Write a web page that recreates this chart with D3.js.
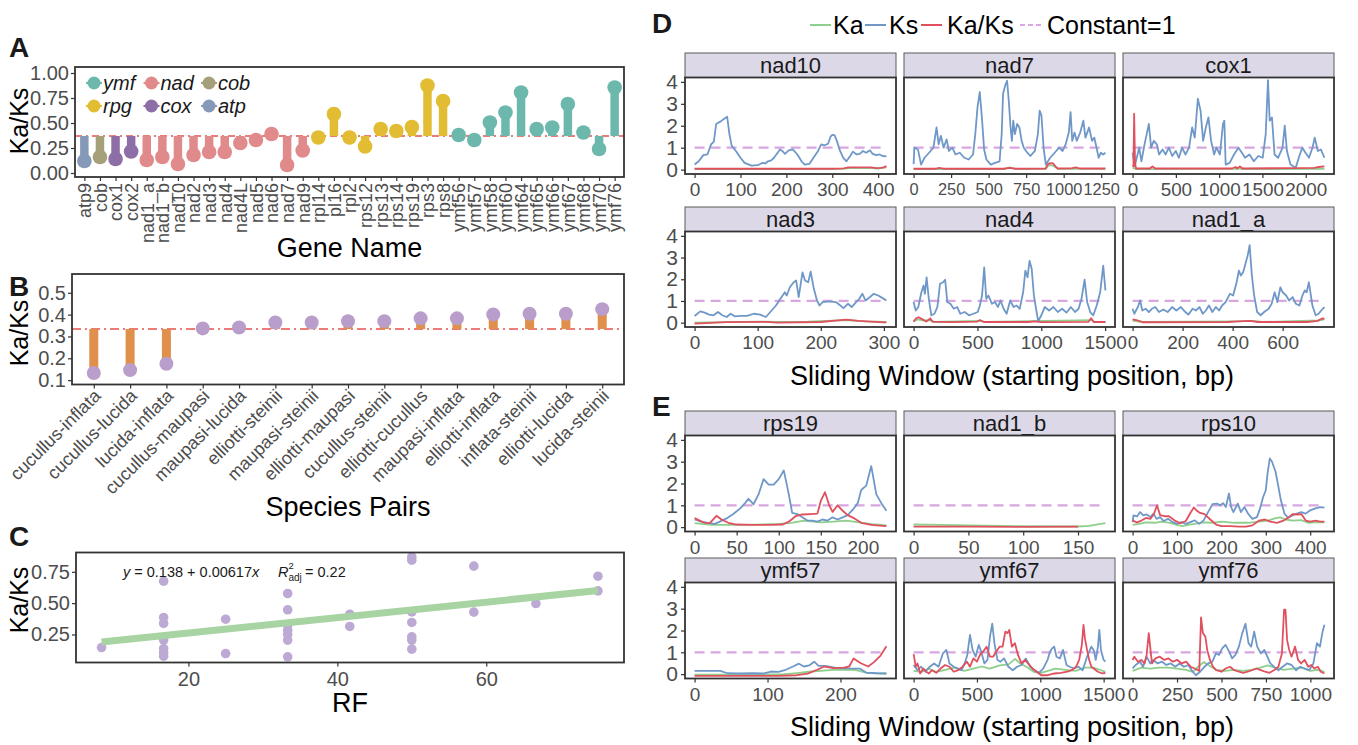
<!DOCTYPE html>
<html><head><meta charset="utf-8">
<script src="https://cdn.jsdelivr.net/npm/d3@7"></script>
<style>body{margin:0;background:#fff}</style>
</head><body><script>
// ---------------- DATA ----------------
// Panel A
const genes = ['atp9','cob','cox1','cox2','nad1_a','nad1_b','nad10','nad2','nad3','nad4','nad4L','nad5','nad6','nad7','nad9','rpl14','pl16','rpl2','rps12','rps13','rps14','rps19','rps3','rps8','ymf56','ymf57','ymf58','ymf60','ymf64','ymf65','ymf66','ymf67','ymf68','ymf70','ymf76'];
const geneGroup = ['atp','cob','cox','cox','nad','nad','nad','nad','nad','nad','nad','nad','nad','nad','nad','rpg','rpg','rpg','rpg','rpg','rpg','rpg','rpg','rpg','ymf','ymf','ymf','ymf','ymf','ymf','ymf','ymf','ymf','ymf','ymf'];
const geneKaKs = [0.12,0.16,0.14,0.215,0.13,0.16,0.09,0.18,0.21,0.21,0.30,0.33,0.39,0.08,0.225,0.355,0.59,0.355,0.265,0.44,0.42,0.46,0.875,0.72,0.38,0.33,0.505,0.605,0.805,0.44,0.455,0.69,0.405,0.24,0.855];
const groupOrder = ['ymf','nad','cob','rpg','cox','atp'];
const refA = 0.37;
const ticksA = [0,0.25,0.5,0.75,1];

// Panel B
const pairs = ['cucullus-inflata','cucullus-lucida','lucida-inflata','cucullus-maupasi','maupasi-lucida','elliotti-steinii','maupasi-steinii','elliotti-maupasi','cucullus-steinii','elliotti-cucullus','maupasi-inflata','elliotti-inflata','inflata-steinii','elliotti-lucida','lucida-steinii'];
const pairKaKs = [0.133,0.146,0.175,0.337,0.341,0.364,0.364,0.370,0.370,0.383,0.383,0.401,0.404,0.404,0.425];
const refB = 0.334;
const ticksB = [0.1,0.2,0.3,0.4,0.5];

// Panel C
const rfX = [8.33,16.67,16.67,16.67,16.67,16.67,16.67,16.67,25,25,33.33,33.33,33.33,33.33,33.33,33.33,33.33,41.67,41.67,50,50,50,50,50,50,50,58.33,58.33,66.67,75,75];
const rfY = [0.146,0.675,0.386,0.338,0.205,0.138,0.106,0.077,0.372,0.098,0.577,0.447,0.324,0.284,0.25,0.205,0.072,0.412,0.314,0.869,0.843,0.43,0.346,0.231,0.205,0.133,0.795,0.428,0.497,0.715,0.598];
const fitIntercept = 0.138, fitSlope = 0.00617, fitR2adj = 0.22;
const ticksCx = [20,40,60], ticksCy = [0.25,0.5,0.75];

// Panels D/E : sliding windows [position, value]
const nad10_Ks = [[0,0.23],[9,0.38],[19,0.66],[28,0.69],[36,1.15],[42,1.28],[47,2.08],[57,2.2],[66,2.34],[71,2.41],[76,1.6],[81,1.08],[90,0.85],[100,0.54],[109,0.31],[124,0.18],[138,0.2],[148,0.31],[154,0.28],[160,0.38],[167,0.42],[173,0.54],[181,0.77],[186,0.92],[191,0.85],[197,0.72],[205,0.88],[214,0.92],[224,0.69],[233,0.38],[240,0.23],[250,0.26],[259,0.54],[269,0.85],[276,1.15],[283,1.11],[291,1.18],[296,1.49],[300,1.58],[305,1.57],[310,1.31],[317,0.85],[324,0.54],[331,0.38],[339,0.62],[345,0.82],[353,0.69],[360,0.72],[367,0.85],[374,0.77],[382,0.88],[388,0.72],[396,0.66],[403,0.69],[410,0.62],[418,0.6]];
const nad10_Ka = [[0,0.02],[100,0.02],[200,0.02],[320,0.03],[340,0.07],[380,0.08],[400,0.05],[418,0.1]];
const nad10_KaKs = [[0,0.04],[100,0.04],[200,0.04],[300,0.04],[325,0.06],[335,0.1],[360,0.1],[385,0.1],[395,0.07],[405,0.08],[412,0.1],[418,0.16]];

const nad7_Ks = [[0,0.25],[5,1.0],[29,0.92],[50,0.23],[73,0.54],[103,0.77],[132,1.0],[153,1.92],[167,1.15],[182,1.54],[200,1.0],[220,1.38],[235,0.85],[258,1.0],[279,0.69],[308,0.77],[338,0.54],[367,0.46],[396,0.69],[411,1.62],[426,2.85],[441,3.54],[455,2.38],[470,0.92],[485,0.46],[514,0.23],[543,0.31],[573,0.38],[587,1.62],[596,3.46],[611,3.85],[623,4.05],[634,3.15],[646,1.92],[655,1.31],[664,2.23],[675,1.62],[690,2.08],[705,1.92],[720,1.31],[734,1.0],[758,0.77],[778,0.62],[808,0.85],[828,1.62],[840,2.69],[852,2.46],[866,1.0],[881,0.23],[910,0.54],[940,0.77],[969,1.0],[993,0.85],[1013,1.15],[1034,1.69],[1046,2.62],[1057,1.31],[1072,1.69],[1087,1.31],[1110,1.69],[1131,2.23],[1145,1.46],[1169,1.92],[1189,1.31],[1204,1.46],[1219,1.0],[1233,0.54],[1248,0.77],[1263,0.69],[1278,0.77]];
const nad7_Ka = [[0,0.02],[600,0.02],[640,0.1],[680,0.02],[880,0.03],[900,0.2],[930,0.18],[960,0.04],[1278,0.03]];
const nad7_KaKs = [[0,0.04],[150,0.04],[170,0.08],[200,0.04],[600,0.04],[640,0.08],[680,0.04],[880,0.05],[895,0.25],[910,0.3],[930,0.28],[945,0.15],[960,0.05],[1050,0.06],[1080,0.1],[1110,0.05],[1278,0.05]];

const cox1_Ks = [[0,0.77],[25,0.15],[76,1.0],[102,0.38],[138,1.15],[163,1.62],[188,2.08],[214,1.0],[245,1.31],[280,1.15],[306,0.69],[346,0.92],[382,0.69],[418,1.0],[458,0.62],[499,0.85],[535,0.54],[571,1.0],[611,0.69],[652,1.0],[688,1.92],[718,1.46],[754,3.23],[785,2.69],[815,1.31],[846,1.92],[876,2.38],[907,1.31],[942,0.69],[968,1.0],[1009,0.69],[1044,2.08],[1060,2.23],[1075,0.23],[1121,0.31],[1172,0.69],[1223,1.0],[1263,0.77],[1299,0.54],[1350,0.69],[1401,0.38],[1452,0.62],[1503,0.54],[1538,1.62],[1564,4.08],[1584,2.23],[1610,2.38],[1640,0.69],[1681,0.54],[1732,1.0],[1758,2.0],[1783,0.85],[1824,0.23],[1885,0.08],[1926,0.62],[1961,1.0],[1997,0.77],[2038,0.54],[2078,1.0],[2104,1.46],[2140,0.85],[2175,0.92],[2216,0.54]];
const cox1_Ka = [[0,0.1],[20,0.05],[40,0.02],[1200,0.03],[1240,0.06],[1270,0.02],[2216,0.04]];
const cox1_KaKs = [[0,0.2],[10,0.15],[18,2.55],[28,0.3],[40,0.05],[200,0.05],[230,0.15],[260,0.05],[1150,0.05],[1190,0.12],[1210,0.05],[1240,0.15],[1270,0.05],[2100,0.08],[2150,0.12],[2216,0.15]];

const nad3_Ks = [[0,0.31],[9,0.52],[16,0.46],[23,0.37],[30,0.34],[37,0.49],[44,0.34],[51,0.26],[57,0.41],[64,0.29],[73,0.31],[83,0.31],[94,0.41],[104,0.37],[113,0.26],[120,0.49],[129,0.79],[136,1.1],[143,1.4],[146,1.25],[151,1.63],[157,1.86],[161,1.94],[165,1.18],[171,2.32],[175,1.94],[180,1.86],[184,2.35],[189,1.56],[194,1.02],[198,0.79],[203,0.95],[213,0.98],[224,0.95],[231,0.79],[236,0.67],[243,0.87],[249,0.72],[256,0.95],[261,1.1],[266,1.33],[271,1.02],[278,1.18],[284,1.33],[291,1.25],[298,1.13],[304,1.02]];
const nad3_Ka = [[0,0.0],[100,0.05],[130,0.03],[180,0.05],[240,0.12],[270,0.06],[304,0.03]];
const nad3_KaKs = [[0,-0.04],[50,0.02],[115,0.04],[130,0.0],[200,0.03],[240,0.14],[260,0.08],[300,0.01],[304,0.01]];

const nad4_Ks = [[0,0.95],[17,0.56],[37,0.72],[61,1.4],[78,1.71],[88,1.33],[102,2.09],[119,1.1],[139,0.34],[163,0.41],[186,0.72],[207,1.79],[231,1.86],[247,1.98],[264,0.95],[288,0.87],[315,0.64],[342,0.72],[366,0.41],[400,0.49],[434,0.34],[468,0.41],[502,0.49],[519,0.79],[536,1.25],[553,2.55],[569,1.1],[586,1.25],[614,0.87],[637,0.95],[661,0.72],[681,1.02],[705,0.64],[729,0.41],[756,1.02],[783,0.72],[807,0.79],[831,0.64],[858,1.4],[875,2.4],[892,2.09],[908,2.85],[925,2.47],[942,1.25],[959,0.64],[976,0.06],[1000,0.34],[1027,0.72],[1061,0.56],[1095,0.72],[1129,0.49],[1163,0.64],[1197,0.46],[1231,0.72],[1264,0.49],[1292,0.64],[1315,1.1],[1339,1.98],[1359,0.95],[1383,0.49],[1407,0.34],[1434,0.79],[1461,1.4],[1485,2.63],[1502,1.48]];
const nad4_Ka = [[0,0.05],[30,0.15],[80,0.1],[140,0.12],[160,0.03],[520,0.08],[560,0.03],[1390,0.12],[1420,0.03],[1502,0.03]];
const nad4_KaKs = [[0,0.05],[20,0.2],[40,0.25],[70,0.15],[100,0.05],[130,0.2],[145,0.05],[300,0.02],[500,0.05],[520,0.12],[550,0.03],[900,0.03],[950,0.06],[1000,0.02],[1370,0.04],[1390,0.2],[1410,0.03],[1502,0.03]];

const nad1_a_Ks = [[0,0.64],[7,0.41],[21,0.72],[30,1.02],[39,0.56],[53,0.64],[65,0.49],[77,0.64],[91,0.72],[105,0.49],[123,0.61],[140,0.49],[158,0.72],[175,0.56],[193,0.72],[211,0.49],[223,0.37],[240,0.64],[253,0.56],[267,0.72],[281,0.41],[293,0.56],[305,0.79],[319,0.49],[333,0.72],[346,0.56],[358,0.79],[372,0.95],[389,1.33],[402,1.25],[416,1.86],[425,2.4],[433,2.17],[442,2.32],[451,2.7],[460,3.08],[468,3.57],[477,2.17],[486,1.25],[498,0.49],[512,0.34],[526,0.49],[544,0.64],[556,0.87],[568,1.4],[579,0.95],[591,1.63],[600,1.4],[614,1.25],[626,1.02],[640,1.18],[653,0.87],[667,0.79],[679,1.25],[688,1.48],[696,1.4],[705,1.86],[719,0.79],[732,0.34],[744,0.41],[754,0.56],[767,0.72]];
const nad1_a_Ka = [[0,0.1],[40,0.03],[420,0.06],[480,0.08],[520,0.03],[740,0.1],[767,0.15]];
const nad1_a_KaKs = [[0,0.15],[20,0.1],[40,0.02],[380,0.03],[420,0.06],[470,0.08],[500,0.03],[700,0.03],[740,0.08],[760,0.2],[767,0.18]];

const rps19_Ks = [[0,0.35],[8,0.25],[16,0.2],[24,0.15],[30,0.25],[38,0.4],[46,0.6],[54,0.85],[60,1.1],[64,1.3],[70,1.05],[76,1.5],[82,2.2],[88,1.95],[94,1.95],[100,2.2],[106,2.6],[112,1.5],[116,0.65],[122,0.6],[128,0.45],[134,0.3],[140,0.3],[146,0.25],[152,0.35],[158,0.3],[164,0.45],[170,0.35],[176,0.45],[182,0.55],[188,0.8],[194,1.1],[198,1.7],[204,1.9],[210,2.8],[216,1.5],[222,1.1],[228,0.75]];
const rps19_Ka = [[0,0.18],[20,0.1],[60,0.1],[100,0.15],[115,0.2],[130,0.3],[150,0.22],[165,0.25],[180,0.3],[200,0.2],[215,0.12],[228,0.08]];
const rps19_KaKs = [[0,0.42],[6,0.3],[12,0.2],[18,0.18],[26,0.52],[32,0.35],[40,0.2],[50,0.12],[70,0.1],[90,0.1],[105,0.12],[112,0.25],[120,0.5],[128,0.58],[138,0.6],[146,0.62],[150,1.2],[155,1.6],[160,1.0],[164,0.7],[170,1.0],[176,0.75],[182,0.55],[190,0.4],[198,0.2],[210,0.1],[220,0.07],[228,0.05]];

const nad1_b_Ks = [];
const nad1_b_Ka = [[0,0.12],[25,0.1],[50,0.08],[100,0.04],[150,0.03],[160,0.06],[175,0.18]];
const nad1_b_KaKs = [[0,0.02],[50,0.02],[100,0.01],[150,0.02]];

const rps10_Ks = [[0,0.23],[2,0.54],[10,0.49],[17,0.69],[24,0.54],[32,0.58],[40,0.46],[47,0.62],[54,0.38],[62,0.46],[70,0.28],[80,0.38],[90,0.23],[100,0.15],[110,0.23],[120,0.15],[130,0.23],[140,0.31],[150,0.15],[160,0.31],[170,0.69],[180,1.05],[190,1.08],[197,1.0],[204,1.1],[210,0.92],[217,1.54],[222,0.92],[227,0.69],[237,1.08],[244,0.69],[252,0.92],[260,0.62],[270,0.38],[280,0.46],[287,0.85],[294,1.38],[300,1.69],[304,2.46],[309,3.15],[314,3.0],[322,2.54],[327,2.0],[334,1.23],[342,0.62],[350,0.43],[360,0.54],[370,0.62],[380,0.69],[390,0.62],[400,0.77],[410,0.85],[422,0.92],[432,0.89]];
const rps10_Ka = [[0,0.1],[15,0.15],[30,0.22],[50,0.2],[65,0.25],[85,0.2],[100,0.1],[112,0.05],[125,0.1],[140,0.15],[160,0.22],[180,0.2],[200,0.25],[230,0.2],[260,0.2],[285,0.25],[305,0.3],[320,0.4],[332,0.45],[345,0.35],[360,0.3],[380,0.32],[395,0.2],[410,0.22],[432,0.22]];
const rps10_KaKs = [[0,0.3],[10,0.22],[20,0.3],[30,0.42],[40,0.38],[48,0.6],[55,1.0],[62,0.55],[72,0.5],[82,0.5],[95,0.3],[108,0.18],[120,0.28],[130,0.65],[138,0.9],[145,0.75],[152,0.65],[162,0.6],[175,0.35],[188,0.12],[200,0.05],[220,0.05],[240,0.02],[255,0.02],[270,0.08],[285,0.3],[298,0.35],[310,0.25],[325,0.2],[340,0.3],[352,0.45],[360,0.6],[372,0.58],[380,0.6],[390,0.3],[400,0.25],[412,0.3],[422,0.25],[432,0.25]];

const ymf57_Ks = [[0,0.15],[20,0.15],[35,0.15],[45,0.04],[60,0.03],[80,0.04],[95,0.03],[105,0.12],[115,0.1],[125,0.2],[135,0.35],[143,0.48],[150,0.35],[157,0.4],[164,0.57],[170,0.38],[178,0.38],[185,0.34],[195,0.28],[210,0.26],[227,0.25],[235,0.07],[250,0.04],[263,0.03]];
const ymf57_Ka = [[0,-0.02],[60,-0.02],[120,-0.01],[140,0.05],[160,0.12],[190,0.2],[220,0.2],[238,0.05],[263,0.03]];
const ymf57_KaKs = [[0,-0.08],[50,-0.08],[115,-0.08],[140,-0.05],[155,0.02],[168,0.2],[178,0.35],[190,0.28],[205,0.3],[212,0.35],[218,0.72],[228,0.5],[238,0.35],[246,0.55],[255,0.85],[263,1.28]];

const ymf67_Ks = [[0,0.42],[31,0.18],[59,0.34],[93,0.11],[128,0.34],[162,0.49],[197,0.34],[231,0.95],[259,1.11],[283,0.49],[317,0.34],[352,0.26],[379,0.18],[403,0.49],[424,0.88],[445,1.8],[466,1.11],[490,0.8],[514,1.34],[534,1.03],[559,0.49],[583,0.65],[603,1.72],[621,2.31],[638,1.42],[662,0.65],[686,0.57],[714,0.72],[748,0.34],[783,0.18],[817,0.34],[852,0.42],[886,0.72],[921,0.34],[955,0.18],[990,0.06],[1024,0.26],[1059,0.68],[1076,1.03],[1093,1.18],[1110,1.26],[1128,0.8],[1155,0.72],[1179,1.11],[1207,0.42],[1231,0.34],[1266,0.26],[1300,0.34],[1334,0.18],[1352,0.49],[1369,0.8],[1386,1.03],[1403,1.26],[1421,1.11],[1438,0.65],[1455,1.26],[1466,2.03],[1479,1.11],[1500,0.65],[1514,0.57]];
const ymf67_Ka = [[0,0.15],[60,0.1],[120,0.25],[180,0.1],[250,0.2],[320,0.3],[400,0.15],[470,0.25],[540,0.35],[600,0.25],[680,0.4],[750,0.45],[800,0.7],[840,0.5],[900,0.3],[950,0.1],[1000,0.05],[1060,0.15],[1120,0.25],[1200,0.2],[1280,0.15],[1350,0.3],[1420,0.3],[1470,0.2],[1514,0.1]];
const ymf67_KaKs = [[0,0.92],[17,0.34],[31,0.49],[52,0.03],[76,0.26],[100,0.11],[121,0.03],[145,0.18],[179,0.06],[214,0.26],[248,0.42],[283,0.34],[317,0.11],[352,0.18],[386,0.34],[421,0.57],[445,0.34],[472,0.72],[500,0.57],[524,0.88],[548,1.03],[576,1.26],[603,0.8],[628,0.8],[652,1.03],[679,1.26],[703,1.26],[724,1.95],[741,1.88],[755,2.03],[776,1.26],[800,1.42],[824,0.88],[852,0.49],[879,0.65],[903,0.49],[938,0.26],[972,0.11],[1007,-0.05],[1059,-0.05],[1110,0.03],[1162,0.06],[1214,0.11],[1248,0.18],[1283,0.34],[1307,0.65],[1328,1.34],[1341,2.26],[1352,1.65],[1369,1.11],[1386,0.65],[1403,0.34],[1421,0.26],[1455,0.11],[1490,0.03],[1514,0.06]];

const ymf76_Ks = [[0,0.26],[17,0.42],[42,0.57],[59,0.34],[79,0.8],[99,0.49],[116,0.65],[141,0.49],[165,0.57],[190,0.42],[215,0.49],[240,0.34],[264,0.49],[289,0.34],[314,0.42],[338,0.11],[356,-0.05],[380,0.11],[405,0.34],[425,0.49],[449,0.57],[469,0.95],[486,0.88],[504,1.18],[523,1.34],[543,1.03],[560,0.72],[578,0.88],[598,1.26],[617,1.88],[635,2.31],[652,1.42],[667,1.26],[684,1.95],[701,1.26],[721,0.95],[741,1.11],[758,0.8],[775,0.49],[795,0.34],[820,0.18],[844,0.34],[869,0.49],[894,0.42],[919,0.18],[943,0.34],[968,0.26],[993,0.18],[1017,0.49],[1037,1.42],[1054,1.26],[1067,1.88],[1079,2.26]];
const ymf76_Ka = [[0,0.15],[50,0.3],[100,0.25],[150,0.3],[200,0.3],[250,0.25],[300,0.2],[340,0.1],[370,0.35],[400,0.55],[430,0.4],[470,0.2],[520,0.15],[570,0.2],[620,0.15],[670,0.2],[720,0.3],[760,0.4],[800,0.3],[850,0.2],[900,0.25],[950,0.3],[1000,0.15],[1040,0.2],[1079,0.1]];
const ymf76_KaKs = [[0,0.65],[10,0.8],[30,0.57],[49,0.65],[67,0.49],[79,0.88],[91,1.88],[109,0.49],[128,0.72],[153,0.8],[178,0.65],[202,0.72],[227,0.57],[252,0.65],[276,0.49],[301,0.57],[326,0.34],[350,0.26],[375,0.15],[385,2.6],[395,1.9],[410,1.7],[420,1.1],[435,0.65],[452,0.34],[470,0.18],[500,0.11],[523,0.26],[548,0.34],[572,0.18],[598,0.11],[622,0.06],[647,0.11],[672,0.18],[696,0.26],[721,0.18],[746,0.11],[770,0.06],[795,0.18],[820,0.34],[840,0.95],[852,2.95],[860,2.95],[869,1.57],[881,1.11],[894,0.8],[914,1.26],[931,0.65],[948,0.49],[968,0.65],[988,0.34],[1005,0.42],[1022,0.26],[1042,0.34],[1059,0.11],[1079,0.03]];

const facetsD = ['nad10','nad7','cox1','nad3','nad4','nad1_a'];
const facetsE = ['rps19','nad1_b','rps10','ymf57','ymf67','ymf76'];
const xTicks = {nad10:[0,100,200,300,400], nad7:[0,250,500,750,1000,1250], cox1:[0,500,1000,1500,2000],
  nad3:[0,100,200,300], nad4:[0,500,1000,1500], nad1_a:[0,200,400,600],
  rps19:[0,50,100,150,200], nad1_b:[0,50,100,150], rps10:[0,100,200,300,400],
  ymf57:[0,100,200], ymf67:[0,500,1000,1500], ymf76:[0,250,500,750,1000]};
const yTicksF = [0,1,2,3,4];
const seriesNames = ['Ka','Ks','Ka/Ks','Constant=1'];
const constantValue = 1;

// ---------------- DRAWING ----------------
const FONT = '"Liberation Sans", Arial, Helvetica, sans-serif';
const TICKCOL = '#4d4d4d';
const TITLE_FS = 27, YTITLE_FS = 25;
const groupColor = {ymf:'#6db8ad', nad:'#e08a8c', cob:'#a6a07a', rpg:'#e2bd33', cox:'#8e6ea6', atp:'#8799b9'};
const seriesColor = {'Ka':'#8ecf8b','Ks':'#6f98c8','Ka/Ks':'#e0505f','Constant=1':'#d8a6e0'};

const svg = d3.select('body').append('svg').attr('width',1358).attr('height',745)
  .style('font-family',FONT).style('background','#fff');

function styleAxis(sel, fs){
  sel.select('.domain').remove();
  sel.selectAll('line').attr('stroke','#333').attr('stroke-width',1.2);
  sel.selectAll('text').attr('fill',TICKCOL).style('font-size',fs+'px').style('font-family',FONT);
}
function frame(b){
  svg.append('rect').attr('x',b.left).attr('y',b.top).attr('width',b.right-b.left).attr('height',b.bottom-b.top)
    .attr('fill','none').attr('stroke','#333').attr('stroke-width',1.8);
}
function panelLetter(t,x,y){
  svg.append('text').attr('x',x).attr('y',y).text(t).style('font-size','28px').style('font-weight','bold').attr('fill','#1a1a1a');
}
function yTitle(t,x,y){
  svg.append('text').attr('transform',`translate(${x},${y}) rotate(-90)`).attr('text-anchor','middle')
    .attr('dy','0.35em').text(t).style('font-size',YTITLE_FS+'px').attr('fill','#000');
}
function xTitle(t,x,y){
  svg.append('text').attr('x',x).attr('y',y).attr('text-anchor','middle').text(t).style('font-size',TITLE_FS+'px').attr('fill','#000');
}

// ---- Panel A ----
const A = {left:75,right:624,top:67,bottom:177};
const xA = d3.scalePoint().domain(genes).range([A.left,A.right]).padding(0.6);
const yA = d3.scaleLinear().domain([-0.04,1.06]).range([A.bottom,A.top]);
svg.append('line').attr('x1',A.left).attr('x2',A.right).attr('y1',yA(refA)).attr('y2',yA(refA))
  .attr('stroke','#e8524c').attr('stroke-width',1.6).attr('stroke-dasharray','7,4,2,4');
const gA = svg.append('g');
gA.selectAll('line.stem').data(genes).join('line').attr('class','stem')
  .attr('x1',d=>xA(d)).attr('x2',d=>xA(d))
  .attr('y1',yA(refA)).attr('y2',(d,i)=>yA(geneKaKs[i]))
  .attr('stroke',(d,i)=>groupColor[geneGroup[i]]).attr('stroke-width',8.5);
gA.selectAll('circle').data(genes).join('circle')
  .attr('cx',d=>xA(d)).attr('cy',(d,i)=>yA(geneKaKs[i])).attr('r',7.3)
  .attr('fill',(d,i)=>groupColor[geneGroup[i]]);
frame(A);
const axA = svg.append('g').attr('transform',`translate(${A.left},0)`)
  .call(d3.axisLeft(yA).tickValues(ticksA).tickSize(4).tickPadding(2).tickFormat(d3.format('.2f')));
styleAxis(axA,20);
const axAx = svg.append('g').attr('transform',`translate(0,${A.bottom})`)
  .call(d3.axisBottom(xA).tickSize(4).tickPadding(3));
styleAxis(axAx,18);
axAx.selectAll('text').attr('text-anchor','end').attr('transform','rotate(-90)').attr('x',-6).attr('y',0).attr('dy','0.35em');
// legend A
const legA = svg.append('g');
groupOrder.forEach((g,i)=>{
  const col = i%3, row = Math.floor(i/3);
  const cx = 94 + col*57.5, cy = 83 + row*23;
  legA.append('line').attr('x1',cx-8).attr('x2',cx+8).attr('y1',cy).attr('y2',cy).attr('stroke',groupColor[g]).attr('stroke-width',2);
  legA.append('circle').attr('cx',cx).attr('cy',cy).attr('r',6.5).attr('fill',groupColor[g]);
  legA.append('text').attr('x',cx+9).attr('y',cy).attr('dy','0.35em').text(g)
    .style('font-size','20px').style('font-style','italic').attr('fill','#1a1a1a');
});
yTitle('Ka/Ks',19,121);
xTitle('Gene Name',(A.left+A.right)/2,257);
panelLetter('A',9,57);

// ---- Panel B ----
const B = {left:72,right:624,top:274,bottom:384.5};
const xB = d3.scalePoint().domain(pairs).range([B.left,B.right]).padding(0.6);
const yB = d3.scaleLinear().domain([0.08,0.586]).range([B.bottom,B.top]);
svg.append('line').attr('x1',B.left).attr('x2',B.right).attr('y1',yB(refB)).attr('y2',yB(refB))
  .attr('stroke','#e8524c').attr('stroke-width',1.6).attr('stroke-dasharray','9,4,2,4');
const gB = svg.append('g');
gB.selectAll('line').data(pairs).join('line')
  .attr('x1',d=>xB(d)).attr('x2',d=>xB(d)).attr('y1',yB(refB)).attr('y2',(d,i)=>yB(pairKaKs[i]))
  .attr('stroke','#e0904a').attr('stroke-width',9);
gB.selectAll('circle').data(pairs).join('circle')
  .attr('cx',d=>xB(d)).attr('cy',(d,i)=>yB(pairKaKs[i])).attr('r',7).attr('fill','#b99dcb');
frame(B);
const axB = svg.append('g').attr('transform',`translate(${B.left},0)`)
  .call(d3.axisLeft(yB).tickValues(ticksB).tickSize(4).tickPadding(2).tickFormat(d3.format('.1f')));
styleAxis(axB,20);
const axBx = svg.append('g').attr('transform',`translate(0,${B.bottom})`)
  .call(d3.axisBottom(xB).tickSize(4).tickPadding(3));
styleAxis(axBx,18);
axBx.selectAll('text').attr('text-anchor','end').attr('transform','translate(3,8) rotate(-45)').attr('x',0).attr('y',0).attr('dy','0.35em');
yTitle('Ka/Ks',19,333);
xTitle('Species Pairs',(B.left+B.right)/2,516);
panelLetter('B',9,296);

// ---- Panel C ----
const C = {left:76,right:624,top:552.5,bottom:662.5};
const xC = d3.scaleLinear().domain([4.9,78.5]).range([C.left,C.right]);
const yC = d3.scaleLinear().domain([0.0265,0.904]).range([C.bottom,C.top]);
svg.append('g').selectAll('circle').data(rfX).join('circle')
  .attr('cx',d=>xC(d)).attr('cy',(d,i)=>yC(rfY[i])).attr('r',4.8).attr('fill','#bcaad4');
const xMin = d3.min(rfX), xMax = d3.max(rfX);
svg.append('line').attr('x1',xC(xMin)).attr('x2',xC(xMax))
  .attr('y1',yC(fitIntercept+fitSlope*xMin)).attr('y2',yC(fitIntercept+fitSlope*xMax))
  .attr('stroke','#a7d4a2').attr('stroke-width',7);
frame(C);
const axC = svg.append('g').attr('transform',`translate(${C.left},0)`)
  .call(d3.axisLeft(yC).tickValues(ticksCy).tickSize(4).tickPadding(2).tickFormat(d3.format('.2f')));
styleAxis(axC,20);
const axCx = svg.append('g').attr('transform',`translate(0,${C.bottom})`)
  .call(d3.axisBottom(xC).tickValues(ticksCx).tickSize(4).tickPadding(5));
styleAxis(axCx,20);
const ann = svg.append('text').attr('x',123).attr('y',577).style('font-size','14.5px').attr('fill','#1a1a1a');
ann.append('tspan').style('font-style','italic').text('y');
ann.append('tspan').text(` = ${fitIntercept} + ${fitSlope}`);
ann.append('tspan').style('font-style','italic').text('x');
svg.append('text').attr('x',278).attr('y',577).style('font-size','14.5px').style('font-style','italic').attr('fill','#1a1a1a').text('R');
svg.append('text').attr('x',288.5).attr('y',569).style('font-size','9.5px').attr('fill','#1a1a1a').text('2');
svg.append('text').attr('x',288.5).attr('y',581).style('font-size','10px').attr('fill','#1a1a1a').text('adj');
svg.append('text').attr('x',305).attr('y',577).style('font-size','14.5px').attr('fill','#1a1a1a').text(`= ${fitR2adj}`);
yTitle('Ka/Ks',19,600);
xTitle('RF',(C.left+C.right)/2,712);
panelLetter('C',9,546);

// ---- Panels D / E ----
const seriesData = {
  nad10:{Ka:nad10_Ka,Ks:nad10_Ks,KaKs:nad10_KaKs}, nad7:{Ka:nad7_Ka,Ks:nad7_Ks,KaKs:nad7_KaKs},
  cox1:{Ka:cox1_Ka,Ks:cox1_Ks,KaKs:cox1_KaKs}, nad3:{Ka:nad3_Ka,Ks:nad3_Ks,KaKs:nad3_KaKs},
  nad4:{Ka:nad4_Ka,Ks:nad4_Ks,KaKs:nad4_KaKs}, nad1_a:{Ka:nad1_a_Ka,Ks:nad1_a_Ks,KaKs:nad1_a_KaKs},
  rps19:{Ka:rps19_Ka,Ks:rps19_Ks,KaKs:rps19_KaKs}, nad1_b:{Ka:nad1_b_Ka,Ks:nad1_b_Ks,KaKs:nad1_b_KaKs},
  rps10:{Ka:rps10_Ka,Ks:rps10_Ks,KaKs:rps10_KaKs}, ymf57:{Ka:ymf57_Ka,Ks:ymf57_Ks,KaKs:ymf57_KaKs},
  ymf67:{Ka:ymf67_Ka,Ks:ymf67_Ks,KaKs:ymf67_KaKs}, ymf76:{Ka:ymf76_Ka,Ks:ymf76_Ks,KaKs:ymf76_KaKs}
};
const colLeft = [685,904,1123], PW = 211;
const rows = [
  {strip:53, top:77.5, bottom:174},
  {strip:207, top:231.5, bottom:327},
  {strip:411, top:435.5, bottom:531.5},
  {strip:558, top:582.5, bottom:678.5}
];
let clipId = 0;
function facet(gene, col, row){
  const r = rows[row], left = colLeft[col], right = left+PW;
  const d = seriesData[gene];
  const allX = [].concat(d.Ka,d.Ks,d.KaKs).map(p=>p[0]);
  const x0 = d3.min(allX), x1 = d3.max(allX), pad = (x1-x0)*0.05;
  const x = d3.scaleLinear().domain([x0-pad,x1+pad]).range([left,right]);
  const y = d3.scaleLinear().domain([-0.2,4.2]).range([r.bottom,r.top]);
  // strip
  svg.append('rect').attr('x',left).attr('y',r.strip).attr('width',PW).attr('height',r.top-r.strip)
    .attr('fill','#dcd8e7').attr('stroke','#5a5a5a').attr('stroke-width',1);
  svg.append('text').attr('x',(left+right)/2).attr('y',(r.strip+r.top)/2).attr('dy','0.36em')
    .attr('text-anchor','middle').text(gene).style('font-size','22px').attr('fill','#1a1a1a');
  const id = 'clip'+(clipId++);
  svg.append('clipPath').attr('id',id).append('rect').attr('x',left).attr('y',r.top).attr('width',PW).attr('height',r.bottom-r.top);
  const g = svg.append('g').attr('clip-path',`url(#${id})`);
  g.append('line').attr('x1',x(x0)).attr('x2',x(x1)).attr('y1',y(constantValue)).attr('y2',y(constantValue))
    .attr('stroke',seriesColor['Constant=1']).attr('stroke-width',2.2).attr('stroke-dasharray','10,6');
  const line = d3.line().x(p=>x(p[0])).y(p=>y(p[1]));
  [['Ka',d.Ka],['Ks',d.Ks],['Ka/Ks',d.KaKs]].forEach(([name,arr])=>{
    if(!arr.length) return;
    g.append('path').datum(arr).attr('d',line).attr('fill','none')
      .attr('stroke',seriesColor[name]).attr('stroke-width',1.8).attr('stroke-linejoin','round');
  });
  svg.append('rect').attr('x',left).attr('y',r.top).attr('width',PW).attr('height',r.bottom-r.top)
    .attr('fill','none').attr('stroke','#333').attr('stroke-width',1.8);
  // tick label size: shrink only when neighbouring labels would collide
  const tv = xTicks[gene];
  const gap = x(tv[1]) - x(tv[0]);
  const maxChars = d3.max(tv, t=>String(t).length);
  const fs = Math.min(19, gap*0.97/(maxChars*0.556));
  const ax = svg.append('g').attr('transform',`translate(0,${r.bottom})`)
    .call(d3.axisBottom(x).tickValues(tv).tickSize(4).tickPadding(5).tickFormat(d3.format('d')));
  styleAxis(ax,fs);
  if(col===0){
    const ay = svg.append('g').attr('transform',`translate(${left},0)`)
      .call(d3.axisLeft(y).tickValues(yTicksF).tickSize(4).tickPadding(3).tickFormat(d3.format('d')));
    styleAxis(ay,21);
  }
}
facetsD.forEach((gname,i)=>facet(gname,i%3,Math.floor(i/3)));
facetsE.forEach((gname,i)=>facet(gname,i%3,2+Math.floor(i/3)));

// legend D
const legItems = [{n:'Ka',x:810,t:833},{n:'Ks',x:865,t:889},{n:'Ka/Ks',x:921,t:947},{n:'Constant=1',x:1020,t:1047}];
legItems.forEach(it=>{
  const l = svg.append('line').attr('x1',it.x).attr('x2',it.x+21).attr('y1',25).attr('y2',25)
    .attr('stroke',seriesColor[it.n]).attr('stroke-width',2);
  if(it.n==='Constant=1') l.attr('stroke-dasharray','5,3');
  svg.append('text').attr('x',it.t).attr('y',25).attr('dy','0.36em').text(it.n).style('font-size','25px').attr('fill','#000');
});
xTitle('Sliding Window (starting position, bp)',1012,385);
xTitle('Sliding Window (starting position, bp)',1012,736);
panelLetter('D',652,33);
panelLetter('E',652,416);
</script></body></html>
